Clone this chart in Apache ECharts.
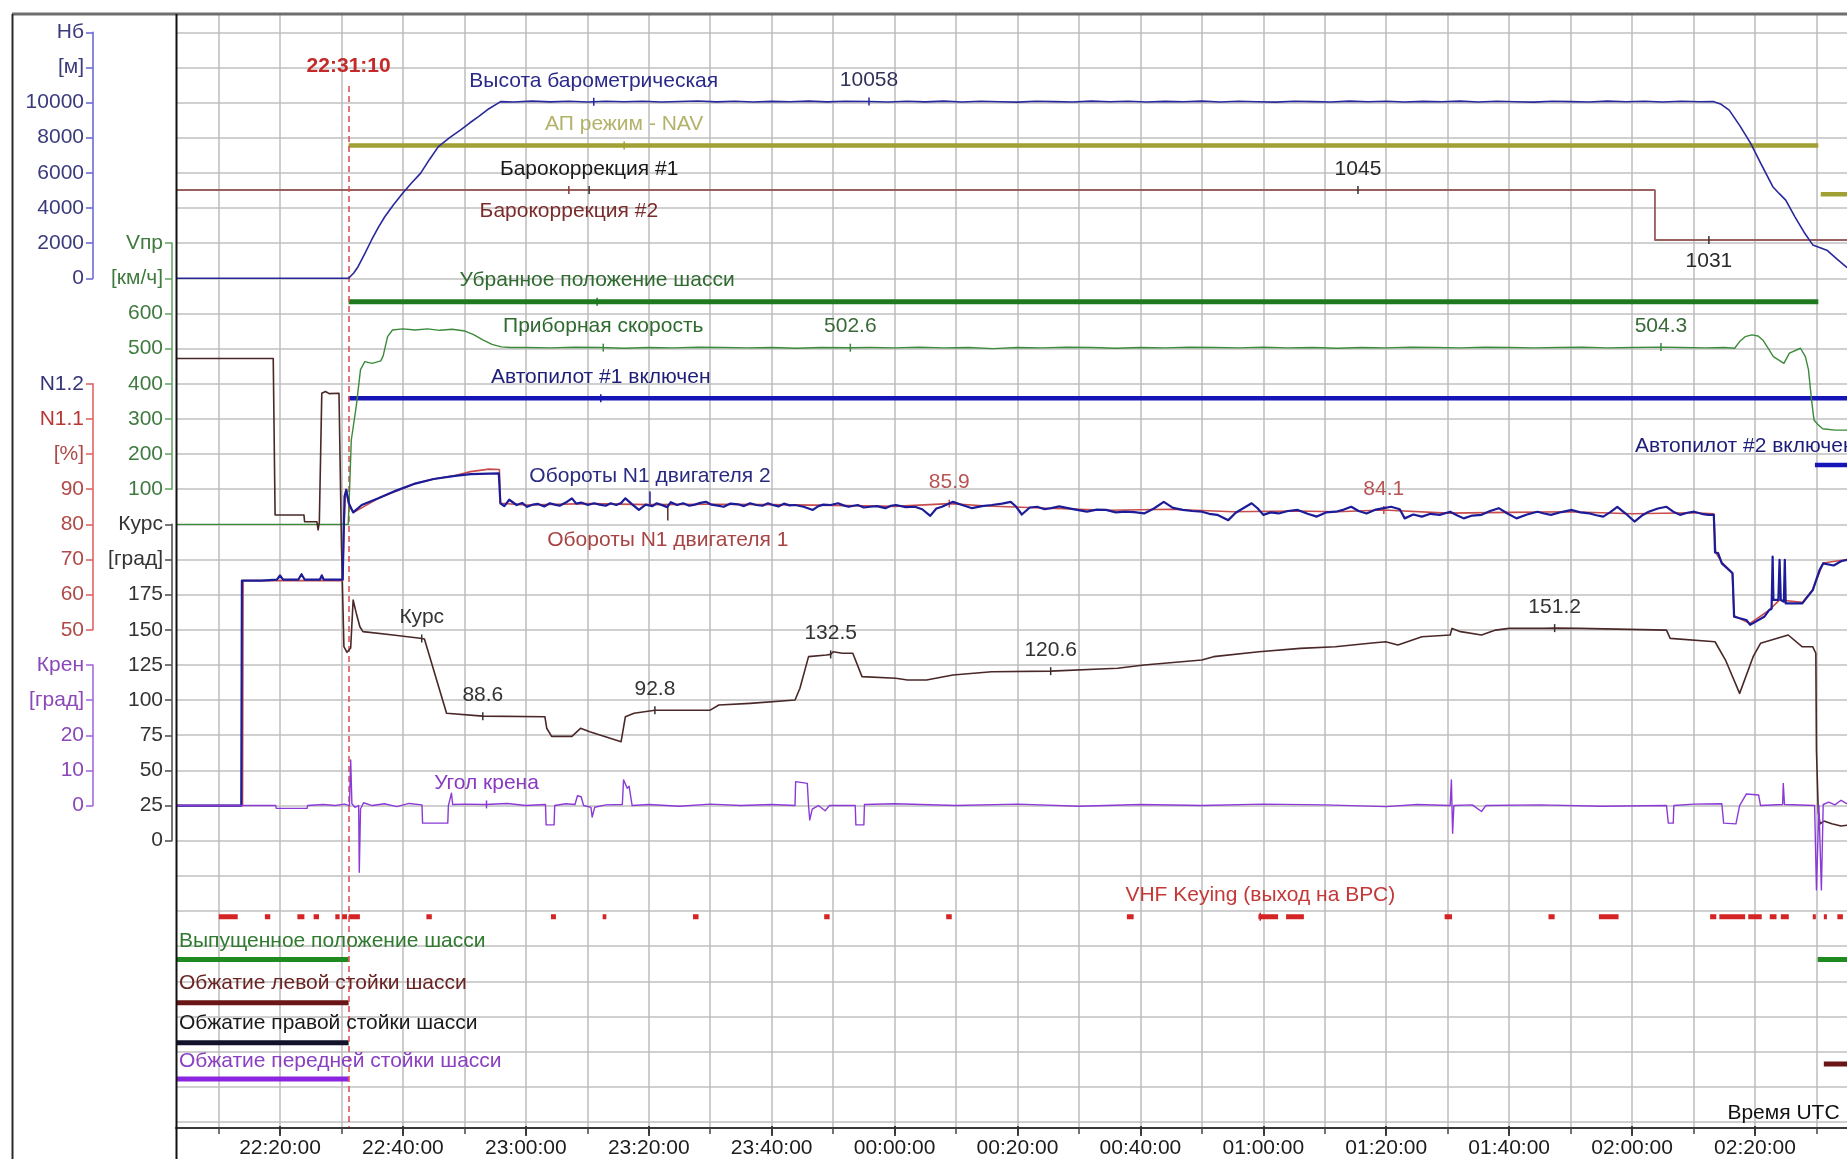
<!DOCTYPE html>
<html>
<head>
<meta charset="utf-8">
<title>Параметры полёта</title>
<script src="https://cdn.jsdelivr.net/npm/echarts@6/dist/echarts.min.js"></script>
<style>
  html, body { margin: 0; padding: 0; background: #ffffff; }
  #chart { width: 1847px; height: 1159px; }
</style>
</head>
<body>
<div id="chart"></div>
<script>
// ---------------------------------------------------------------
// Time is given in minutes after 22:00 UTC (values past 120 are after midnight).
// ---------------------------------------------------------------
const TAKEOFF = 31 + 10 / 60;           // 22:31:10 marker
const timeLabelTicks = [20, 40, 60, 80, 100, 120, 140, 160, 180, 200, 220, 240, 260];

// Barometric altitude, m
const altitude = [
  [3.1,0],[31.17,0],[32.0,300],[32.7,660],[33.8,1400],[34.9,2180],[36.0,2900],[37.05,3500],
  [38.5,4200],[39.96,4840],[41.4,5420],[42.86,5970],[44.3,6750],[45.77,7490],[47.6,8000],
  [49.4,8440],[50.9,8850],[52.3,9200],[54.0,9650],[55.9,10050],
  [58,10030],[61,10080],[64,10040],[67,10070],[70,10030],[73,10075],[76,10045],[79,10070],
  [82,10030],[85,10060],[88,10085],[91,10040],[94,10070],[97,10030],[100,10065],[103,10045],
  [106,10080],[109,10040],[112,10070],[115.84,10058],[119,10030],[122,10070],[125,10040],
  [128,10080],[131,10035],[134,10070],[137,10045],[140,10025],[143,10070],[146,10055],
  [149,10030],[152,10080],[155,10045],[158,10070],[161,10030],[164,10065],[167,10045],
  [170,10080],[173,10030],[176,10070],[179,10045],[182,10025],[185,10070],[188,10055],
  [191,10030],[194,10080],[197,10045],[200,10070],[203,10030],[206,10065],[209,10045],
  [212,10080],[215,10035],[218,10070],[221,10045],[224,10025],[227,10070],[230,10055],
  [233,10030],[236,10080],[239,10045],[242,10070],[245,10035],[248,10070],[251,10045],
  [253.2,10060],[254.5,9900],[255.8,9570],[257.5,8700],[259.3,7680],[261,6500],[262.9,5210],
  [264,4800],[265,4450],[266.5,3500],[268.1,2560],[269.4,1900],[270.5,1750],[271.7,1600],
  [273.3,1100],[275,600]
];

// Indicated airspeed, km/h
const airspeed = [
  [3.1,0],[31.1,0],[31.3,90],[31.6,240],[32.4,335],[33.1,440],[33.8,463],[35.0,458],[36.4,465],
  [36.8,480],[37.5,534],[38.3,553],[40.0,556],[42.0,553],[44.0,556],[46.0,552],[48.0,555],
  [50.1,550],[51.5,540],[53.0,525],[54.5,512],[56.0,505],[57.5,503],
  [60,503],[64,502],[68,504],[72,503],[76,501],[80,503],[84,502],[88,504],[92,503],[96,502],
  [100,503],[104,501],[108,503],[112.8,502.6],[116,503],[120,502],[124,504],[128,502],[132,503],
  [136,500],[140,503],[144,502],[148,504],[152,503],[156,501],[160,503],[164,502],[168,504],
  [172,503],[176,502],[180,504],[184,502],[188,503],[192,501],[196,503],[200,502],[204,504],
  [208,503],[212,502],[216,504],[220,503],[224,502],[228,503],[232,504],[236,502],[240,503],
  [244.7,504.3],[248,503],[252,502],[255,503],[256.7,501],[257.5,520],[258.4,534],[259.5,539],
  [260.5,536],[261.3,524],[263.0,477],[264.7,458],[265.6,487],[267.4,501],[268.2,477],
  [268.7,440],[269.2,354],[269.6,297],[270.2,285],[271.0,272],[273.0,268],[275,268]
];

// Engine 2 fan speed N1, %
const n1Engine2 = [
  [3.1,0],[13.7,0],[13.8,64],[17.0,64],[19.5,64.3],[20.0,65.5],[20.5,64.3],[23.0,64.3],[23.5,65.8],
  [24.0,64.3],[26.5,64.3],[26.8,65.5],[27.1,64.3],[30.2,64.3],[30.5,88.0],[30.8,89.8],[31.2,86.0],
  [31.9,83.4],[33.3,85.5],[36.0,87.4],[38.9,89.6],[42.0,91.6],[45.0,92.9],[48.5,93.8],[51.0,94.3],
  [55.6,94.5],[55.86,86.0],[56.5,85.2],[57.3,87.0],[58.5,85.5],[59.4,86.1],[60.2,85.0],[61.1,85.6],
  [62.0,85.8],[63.0,85.1],[63.9,86.0],[64.7,85.6],[65.5,85.3],[66.5,86.2],[67.5,87.4],[68.2,85.9],
  [69.0,86.2],[70.1,85.5],[71.1,86.0],[72.0,85.6],[73.0,85.3],[73.8,86.0],[74.7,85.5],[75.5,86.1],
  [76.2,87.4],[77.3,85.7],[78.4,84.1],[79.5,85.6],[80.6,85.2],[81.3,86.0],[82.3,85.4],[83.0,84.9],
  [83.6,86.3],[84.6,85.5],[85.6,86.0],[86.6,85.3],[87.5,85.6],[88.4,86.1],[89.3,86.4],[90.2,85.6],
  [91.0,85.4],[92.2,85.0],[93.3,85.9],[94.5,85.7],[95.5,85.2],[96.5,86.0],[97.5,85.5],[98.5,85.3],
  [99.4,86.0],[100.2,85.5],[101.1,85.1],[102.0,85.9],[102.9,85.4],[103.8,85.5],[105.2,85.0],
  [106.7,84.1],[107.6,85.2],[108.4,85.6],[109.6,85.5],[110.8,86.0],[111.7,85.4],[112.5,85.0],
  [114.0,85.5],[115.0,84.8],[116.0,85.0],[117.1,85.2],[118.5,84.6],[119.4,85.3],[120.2,85.5],
  [121.8,84.9],[123.3,85.0],[124.5,84.3],[125.8,82.4],[126.8,84.5],[127.7,85.0],[129.5,86.4],
  [131.0,85.5],[132.6,84.6],[134.2,85.2],[135.8,85.5],[137.5,85.9],[138.9,86.4],[139.8,85.0],
  [140.7,82.8],[142.0,84.8],[143.2,85.0],[144.4,84.3],[145.5,84.6],[146.8,85.1],[148.2,84.6],
  [149.7,84.1],[151.3,83.6],[152.9,84.2],[154.4,84.1],[156.0,83.4],[157.5,83.6],[159.0,83.5],
  [160.6,83.1],[162.2,84.5],[163.8,86.4],[165.3,84.7],[166.9,84.1],[168.4,83.8],[170.0,83.6],
  [171.2,83.0],[172.5,82.7],[174.3,81.2],[175.5,83.3],[178.1,86.0],[179.1,84.5],[180.0,82.7],
  [181.2,83.4],[182.5,83.1],[184.0,83.8],[185.6,84.1],[187.2,83.0],[188.7,82.2],[190.2,83.4],
  [191.8,83.6],[193.1,84.2],[194.3,85.0],[195.5,83.8],[196.8,83.1],[198.3,84.2],[199.6,84.6],
  [200.8,85.0],[202.2,84.3],[203.0,81.7],[204.4,82.8],[205.8,82.2],[207.2,83.0],[208.7,82.7],
  [210.4,83.6],[211.5,82.6],[212.6,81.7],[214.0,82.5],[215.5,82.7],[216.9,83.8],[218.3,84.6],
  [219.8,83.0],[221.2,81.7],[222.9,82.8],[224.6,83.6],[225.7,83.1],[226.8,82.7],[228.5,83.5],
  [230.2,84.1],[231.6,83.4],[233.1,83.1],[234.2,82.6],[235.3,82.2],[236.4,83.4],[237.6,85.0],
  [239.0,83.0],[240.4,80.8],[241.6,82.5],[242.7,83.6],[244.2,84.5],[245.6,85.0],[246.7,83.6],
  [247.8,82.7],[249.0,83.3],[250.1,83.6],[251.3,83.0],[252.4,82.7],[253.3,82.7],
  [253.5,72.0],[254.0,71.8],[254.6,68.9],[256.35,66.1],[256.6,53.7],[258.6,52.8],[259.2,51.4],
  [261.5,53.7],[262.3,55.6],[262.7,56.0],[262.87,70.8],[263.0,58.5],[263.8,58.5],[264.0,69.9],
  [264.2,58.5],[264.7,58.0],[264.85,69.9],[265.0,57.5],[267.7,57.5],[269.4,61.3],[270.5,67.0],
  [271.1,68.9],[272.8,68.3],[274.0,69.5],[275,69.9]
];

// Engine 1 fan speed N1, %
const n1Engine1 = [
  [3.1,0],[13.9,0],[14.0,64],[30.2,64],[30.4,80],[30.7,90],[31.3,85],[32.0,83.4],[36.0,87.4],
  [42.0,91.6],[45.0,92.9],[48.5,93.9],[51.0,95.0],[54.0,95.7],[55.7,95.6],[55.86,86.0],[60,85.5],[70,85.9],
  [80,85.6],[90,85.7],[100,85.6],[110,85.4],[120,85.1],[128.9,85.9],[135,85.2],[145,84.6],
  [155,84.0],[165,84.3],[175,83.6],[185,83.8],[192,83.6],[199.6,84.1],[210,83.2],[220,83.4],
  [230,83.6],[240,83.0],[250,83.3],[253.3,83.0],[253.6,72.0],[254.6,69.2],[256.3,66.3],
  [256.6,54.0],[259.2,51.8],[262.3,55.6],[264.0,58.5],[267.7,57.8],[269.4,61.5],[271.1,69.0],[275,70.0]
];

// Heading, degrees
const heading = [
  [3.1,343],[18.9,343],[19.2,231.6],[23.9,231.6],[24.0,226.9],[26.0,226.9],[26.2,221],[26.4,226.5],
  [26.8,318.2],[27.4,319.5],[28.0,318],[29.6,318.2],[30.0,210],[30.4,138],[30.9,134],[31.5,137],
  [31.9,171.2],[32.4,162],[33.0,152.2],[33.5,148.7],[38.4,146.3],[42.8,144.0],[43.5,143.5],
  [47.1,90.6],[53.0,88.6],[63.1,88.2],[63.4,80],[64.2,74.2],[67.5,74.2],[68.9,79.9],[70.4,77.5],
  [75.5,70.4],[76.2,88.2],[77.6,90.6],[81.0,92.8],[90.0,92.9],[91.4,96.5],[96.5,97.7],
  [103.8,100.1],[104.6,108.4],[106.0,130.9],[108.9,132.1],[109.6,132.5],[110.0,134.4],
  [111.5,133.3],[113.2,133.3],[114.7,116.7],[120.2,115.5],[122.1,114.3],[125.2,114.3],
  [129.5,117.8],[135.8,120.2],[145.4,120.6],[156.3,122.6],[160.6,125.0],[170.0,128.5],
  [171.9,130.9],[179.3,134.4],[186.0,136.8],[191.7,137.9],[197.3,140.4],[199.9,141.5],
  [201.9,139.2],[205.8,145.1],[210.4,146.3],[210.7,151.0],[212.1,148.7],[215.5,146.3],
  [217.8,149.8],[220.0,151.0],[225.7,151.0],[227.4,151.2],[231.4,151.0],[245.6,149.8],
  [246.2,143.9],[253.5,141.5],[255.2,128.5],[257.5,104.8],[259.7,130.9],[260.9,140.4],
  [265.4,146.3],[267.7,137.9],[269.4,137.9],[269.9,133.3],[270.0,64.5],[270.3,20],
  [270.6,12],[271.2,14],[272.5,12],[274,10.5],[275,11]
];

// Roll angle, degrees
const roll = [
  [3.1,0],[19.3,0],[19.4,-0.8],[24.4,-0.8],[24.5,0],[27,0.3],[29,0],[30.5,0.4],[31.3,0],[31.5,13],
  [31.7,0.5],[32.2,-0.5],[32.8,0],[32.9,-19],[33.1,-1],[33.6,0.8],[35,0],[37,0.5],[39,-0.3],
  [41,0.6],[43.1,0.2],[43.2,-5],[47.3,-5],[47.4,0],[47.7,0.2],[47.9,3.5],[48.1,0.3],[50,0.4],
  [53.4,0.3],[57,0.6],[60,0],[63.2,0.3],[63.3,-5.5],[64.6,-5.5],[64.7,0],[66.5,0.5],[68.0,0.3],
  [68.4,2.8],[69.0,2.5],[69.4,0],[70.6,-0.5],[70.8,-3.3],[71.2,-0.5],[73,0.2],[75.7,0.3],
  [75.9,7.3],[76.5,4.9],[76.8,5.5],[77.3,0],[80,0.3],[85,-0.2],[90,0.4],[95,0],[100,0.3],
  [103.8,0],[103.9,6.8],[105.8,6.3],[106.0,0],[106.2,-4.1],[106.6,-1],[107.6,0],[108.7,-1.5],
  [109.4,0],[113.6,0],[113.7,-5.5],[115.0,-5.5],[115.1,0.3],[120,0.5],[130,0],[140,0.4],
  [150,-0.2],[160,0.3],[170,0],[180,0.4],[190,0.2],[200,-0.3],[205,0.3],[210.4,0],[210.6,7.3],
  [210.8,-7.9],[211.0,0],[214,0.2],[215.5,-1.7],[216.2,0],[225,0.2],[235,-0.2],[245.6,0],
  [245.9,-5],[246.7,-5],[246.8,0],[250,0.4],[254.6,0.5],[254.9,-5],[256.9,-5.2],[257.5,0],
  [258.6,3.3],[260.6,3.0],[260.9,0],[264.5,0.3],[264.6,6.3],[264.8,0.3],[269.7,0],[270.0,-24],
  [270.4,0],[270.8,-24],[271.1,0.3],[272,1],[273,0.2],[274,1.5],[275,0.5]
];

// Altimeter setting (barocorrection), hPa
const baroCorrection1 = [[3.1,1045],[195.4,1045],[243.7,1045],[243.7,1031],[252.5,1031],[275,1031]];
const baroCorrection2 = [[3.1,1045],[67.0,1045],[243.7,1045],[243.7,1031],[275,1031]];

// Discrete signals: [from, to, state]
const apNavMode      = [[TAKEOFF,270.3,1],[270.7,275,0]];
const gearRetracted  = [[TAKEOFF,270.3,1]];
const autopilot1     = [[TAKEOFF,275,1]];
const autopilot2     = [[269.75,275,1]];
const vhfKeying      = [
  [10.04,13.12,1],[17.54,18.42,1],[22.83,23.97,1],[25.47,26.35,1],[29.0,29.7,1],[30.1,30.9,1],
  [31.2,33.0,1],[43.82,44.70,1],[64.1,64.9,1],[72.5,73.1,1],[87.2,88.1,1],[108.55,109.43,1],
  [128.4,129.3,1],[157.8,158.9,1],[179.2,182.4,1],[183.7,186.6,1],[209.5,210.7,1],[226.4,227.4,1],
  [234.6,237.8,1],[252.7,253.7,1],[254.2,258.4,1],[258.9,261.1,1],[262.4,263.5,1],[264.2,265.5,1],
  [269.4,269.9,1],[271.2,271.7,1],[273.4,274.3,1]
];
const gearExtended   = [[3.1,TAKEOFF,1],[270.2,275,1]];
const leftStrut      = [[3.1,TAKEOFF,1],[271.2,275,0]];
const rightStrut     = [[3.1,TAKEOFF,1]];
const noseStrut      = [[3.1,TAKEOFF,1]];

// ---------------------------------------------------------------
// Layout
// ---------------------------------------------------------------
const W = 1847, H = 1159;
const FONT = "'Liberation Sans', Arial, sans-serif";
const PLOT_LEFT = 176, PLOT_TOP = 14, PLOT_BOTTOM = 1128;
const PX_PER_MIN = 6.1458, X_AT_20 = 280;          // 22:20 tick position
const ROW0 = 278.3, ROW = 35.15;                    // horizontal grid rows
const rowY = k => ROW0 + ROW * k;
const xAtT = t => X_AT_20 + (t - 20) * PX_PER_MIN;
const tAtX = x => 20 + (x - X_AT_20) / PX_PER_MIN;
const T_MIN = tAtX(PLOT_LEFT), T_MAX = tAtX(W);
const COL_A = 93, COL_B = 172;                      // x of the two axis columns

// Labelled scales on the left, each occupying a band of grid rows
const scales = {
  alt:  { rows: [-7, 0],  min: 0,   max: 14000, step: 2000, col: COL_A,
          names: { 12000: '[м]', 14000: 'Нб' }, line: '#6b6bd6', label: '#3a3a7c', colors: {} },
  vnp:  { rows: [-1, 6],  min: 100, max: 800,   step: 100,  col: COL_B,
          names: { 700: '[км/ч]', 800: 'Vпр' }, line: '#6aa86a', label: '#3f7a3f', colors: {} },
  hdg:  { rows: [7, 16],  min: 0,   max: 225,   step: 25,   col: COL_B,
          names: { 200: '[град]', 225: 'Курс' }, line: '#555555', label: '#333333', colors: {} },
  n1:   { rows: [3, 10],  min: 50,  max: 120,   step: 10,   col: COL_A,
          names: { 100: '[%]', 110: 'N1.1', 120: 'N1.2' }, line: '#e06464', label: '#b04a4a',
          colors: { 120: '#34347a', 110: '#b83636' } },
  roll: { rows: [11, 15], min: 0,   max: 40,    step: 10,   col: COL_A,
          names: { 30: '[град]', 40: 'Крен' }, line: '#a66ae0', label: '#8a48b8', colors: {} }
};

// Vertical placement of discrete signals: [y when 1, y when 0]
const flagLevels = {
  apNav: [145.5, 194.3], gearUp: [301.7], ap1: [398.3], ap2: [465], vhf: [916.7],
  gearDown: [959.5], leftStrut: [1002.7, 1064], rightStrut: [1042.7], noseStrut: [1079]
};
const baroLevels = { a: [1045, 190], b: [1031, 240] };

// ---------------------------------------------------------------
// Helpers
// ---------------------------------------------------------------
function linearRange(vA, yA, vB, yB, top, bottom) {
  const v = y => vA + (y - yA) * (vB - vA) / (yB - yA);
  const vt = v(top), vb = v(bottom);
  return vt > vb ? { min: vb, max: vt, inverse: false, at: v } : { min: vt, max: vb, inverse: true, at: v };
}
function interp(data, m) {
  for (let i = 1; i < data.length; i++) {
    const a = data[i - 1], b = data[i];
    if (a[1] == null || b[1] == null) continue;
    if (m >= a[0] && m <= b[0]) {
      if (b[0] === a[0]) return b[1];
      return a[1] + (b[1] - a[1]) * (m - a[0]) / (b[0] - a[0]);
    }
  }
  return null;
}
function segmentsToLine(segs) {
  const out = [];
  segs.forEach(([a, b, s], i) => {
    if (i) out.push([a, null]);
    out.push([a, s], [b, s]);
  });
  return out;
}
function timeText(m) {
  const total = 22 * 60 + Math.round(m);
  const h = Math.floor(total / 60) % 24, mm = total % 60;
  return String(h).padStart(2, '0') + ':' + String(mm).padStart(2, '0') + ':00';
}
// label with a small tick on the curve
function tag(data, m, text, o) {
  o = o || {};
  const v = o.value != null ? o.value : interp(data, m);
  return {
    coord: [m, v],
    symbol: 'rect',
    symbolSize: [1.5, o.tick || 8],
    symbolOffset: [0, o.shift || 0],
    itemStyle: { color: o.tickColor || '#333333' },
    label: {
      show: true, formatter: text != null ? text : String(v),
      position: o.below ? 'bottom' : 'top', distance: o.distance != null ? o.distance : 6,
      color: o.color, fontSize: 21, fontFamily: FONT, lineHeight: 22
    }
  };
}

// ---------------------------------------------------------------
// Grids and axes
// ---------------------------------------------------------------
const grids = [], xAxes = [], yAxes = [];
function addGrid(g, xa, ya) {
  grids.push(g);
  const gi = grids.length - 1;
  xa.gridIndex = gi; ya.gridIndex = gi;
  xAxes.push(xa); yAxes.push(ya);
  return { grid: gi, x: xAxes.length - 1, y: yAxes.length - 1 };
}
const hiddenTime = () => ({ type: 'value', min: T_MIN, max: T_MAX, show: false });
const hiddenUnit = () => ({ type: 'value', min: 0, max: 1, show: false });

// 0: frame area, holds the discrete signals and the bottom axis line
const baroRange = linearRange(baroLevels.a[0], baroLevels.a[1], baroLevels.b[0], baroLevels.b[1], PLOT_TOP, PLOT_BOTTOM);
const G0 = addGrid(
  { left: PLOT_LEFT, right: 0, top: PLOT_TOP, bottom: H - PLOT_BOTTOM },
  { type: 'value', min: T_MIN, max: T_MAX, position: 'bottom',
    axisLine: { show: true, onZero: false, lineStyle: { color: '#3a3a3a', width: 2 } },
    axisTick: { show: false }, axisLabel: { show: false }, splitLine: { show: false } },
  { type: 'value', min: baroRange.min, max: baroRange.max, inverse: baroRange.inverse, show: false }
);

// 1: vertical grid lines every 10 minutes + small ticks
addGrid(
  { left: xAtT(10), right: W - xAtT(270), top: PLOT_TOP, bottom: H - PLOT_BOTTOM },
  { type: 'value', min: 10, max: 270, interval: 10, position: 'bottom',
    axisLine: { show: false }, axisLabel: { show: false },
    axisTick: { show: true, length: 6, lineStyle: { color: '#444', width: 1.5 } },
    splitLine: { show: true, lineStyle: { color: '#bcbcbc', width: 1.5 } } },
  hiddenUnit()
);

// 2: time labels every 20 minutes
addGrid(
  { left: xAtT(timeLabelTicks[0]), right: W - xAtT(timeLabelTicks[timeLabelTicks.length - 1]), top: PLOT_TOP, bottom: H - PLOT_BOTTOM },
  { type: 'value', min: timeLabelTicks[0], max: timeLabelTicks[timeLabelTicks.length - 1], interval: 20, position: 'bottom',
    axisLine: { show: false }, splitLine: { show: false },
    axisTick: { show: true, length: 10, lineStyle: { color: '#333', width: 1.8 } },
    axisLabel: { show: true, margin: 12, color: '#1c1c1c', fontSize: 21, fontFamily: FONT, formatter: timeText } },
  hiddenUnit()
);

// 3: horizontal grid rows
addGrid(
  { left: PLOT_LEFT, right: 0, top: rowY(-7), bottom: H - rowY(24) },
  hiddenUnit(),
  { type: 'value', min: -7, max: 24, interval: 1, inverse: true,
    axisLine: { show: false }, axisTick: { show: false }, axisLabel: { show: false },
    splitLine: { show: true, lineStyle: { color: '#d0d0d0', width: 2.2 } } }
);

// 4..8: labelled scales
const S = {};
Object.keys(scales).forEach(key => {
  const s = scales[key];
  S[key] = addGrid(
    { left: PLOT_LEFT, right: 0, top: rowY(s.rows[0]), bottom: H - rowY(s.rows[1]) },
    hiddenTime(),
    { type: 'value', position: 'left', offset: PLOT_LEFT - s.col,
      min: s.min, max: s.max, interval: s.step,
      axisLine: { show: true, lineStyle: { color: s.line, width: 1.6 } },
      axisTick: { show: true, length: 7, lineStyle: { color: s.line, width: 1.6 } },
      splitLine: { show: false },
      axisLabel: {
        show: true, margin: 9, fontSize: 21, fontFamily: FONT,
        color: v => s.colors[v] || s.label,
        formatter: v => (s.names[v] != null ? s.names[v] : String(v))
      } }
  );
});

// hidden axes for discrete signals, all inside grid 0
const flagAxis = {};
Object.keys(flagLevels).forEach(key => {
  const [yOn, yOffRaw] = flagLevels[key];
  const yOff = yOffRaw != null ? yOffRaw : yOn + 40;
  const r = linearRange(1, yOn, 0, yOff, PLOT_TOP, PLOT_BOTTOM);
  yAxes.push({ type: 'value', gridIndex: G0.grid, min: r.min, max: r.max, inverse: r.inverse, show: false });
  flagAxis[key] = { y: yAxes.length - 1, at: r.at };
});

// ---------------------------------------------------------------
// Series
// ---------------------------------------------------------------
const series = [];
function flagSeries(name, key, segs, color, width, extra) {
  series.push(Object.assign({
    name, type: 'line', xAxisIndex: G0.x, yAxisIndex: flagAxis[key].y,
    data: segmentsToLine(segs), symbol: 'none', connectNulls: false, silent: true,
    lineStyle: { color, width, cap: 'butt' }, z: 3
  }, extra || {}));
}
function curveSeries(name, data, key, color, width, extra) {
  series.push(Object.assign({
    name, type: 'line', xAxisIndex: S[key].x, yAxisIndex: S[key].y,
    data, symbol: 'none', clip: false, silent: true, connectNulls: false,
    lineStyle: { color, width, join: 'round' }, z: 5
  }, extra || {}));
}

flagSeries('АП режим - NAV', 'apNav', apNavMode, '#a0a034', 4.5, {
  markPoint: { silent: true, data: [tag(segmentsToLine(apNavMode), 76.0, 'АП режим - NAV', { color: '#b2b26a', tickColor: '#a0a034' })] }
});
flagSeries('Убранное положение шасси', 'gearUp', gearRetracted, '#1f7a1f', 5, {
  markPoint: { silent: true, data: [tag(segmentsToLine(gearRetracted), 71.6, 'Убранное положение шасси', { color: '#2f6a2f', tickColor: '#1f7a1f' })] }
});
flagSeries('Автопилот #1 включен', 'ap1', autopilot1, '#1616b8', 4.5, {
  markPoint: { silent: true, data: [tag(segmentsToLine(autopilot1), 72.2, 'Автопилот #1 включен', { color: '#1e1e78', tickColor: '#1616b8' })] },
  markLine: {
    silent: true, symbol: ['none', 'none'],
    lineStyle: { type: [6, 4], color: '#d84a4a', width: 1.5 },
    label: { show: true, position: 'start', formatter: '22:31:10', color: '#c42a2a', fontWeight: 'bold', fontSize: 21, fontFamily: FONT, distance: 9 },
    data: [[{ coord: [TAKEOFF, flagAxis.ap1.at(86)] }, { coord: [TAKEOFF, flagAxis.ap1.at(PLOT_BOTTOM - 1)] }]]
  }
});
flagSeries('Автопилот #2 включен', 'ap2', autopilot2, '#1616b8', 4.5);
flagSeries('VHF Keying (выход на ВРС)', 'vhf', vhfKeying, '#d42424', 5, {
  markPoint: { silent: true, data: [tag(segmentsToLine(vhfKeying), 179.5, 'VHF Keying (выход на ВРС)', { color: '#c43838', tickColor: '#d42424' })] }
});
flagSeries('Выпущенное положение шасси', 'gearDown', gearExtended, '#1f8a1f', 5);
flagSeries('Обжатие левой стойки шасси', 'leftStrut', leftStrut, '#6a1616', 5);
flagSeries('Обжатие правой стойки шасси', 'rightStrut', rightStrut, '#12122a', 5);
flagSeries('Обжатие передней стойки шасси', 'noseStrut', noseStrut, '#8a24e0', 5);

// barocorrection lines live in grid 0 on the hidden yAxis 0
series.push({
  name: 'Барокоррекция #1', type: 'line', xAxisIndex: G0.x, yAxisIndex: G0.y,
  data: baroCorrection1, symbol: 'none', silent: true, z: 4,
  lineStyle: { color: '#1e1e1e', width: 1.4 },
  markPoint: { silent: true, data: [
    tag(baroCorrection1, 70.3, 'Барокоррекция #1', { color: '#1a1a1a' }),
    tag(baroCorrection1, 195.4, null, { value: 1045, color: '#2a2a2a' }),
    tag(baroCorrection1, 252.5, null, { value: 1031, color: '#2a2a2a', below: true })
  ] }
});
series.push({
  name: 'Барокоррекция #2', type: 'line', xAxisIndex: G0.x, yAxisIndex: G0.y,
  data: baroCorrection2, symbol: 'none', silent: true, z: 4,
  lineStyle: { color: '#b06464', width: 1.4 },
  markPoint: { silent: true, data: [
    tag(baroCorrection2, 67.0, 'Барокоррекция #2', { color: '#7a2c2c', tickColor: '#8a3a3a', below: true })
  ] }
});

curveSeries('Высота барометрическая', altitude, 'alt', '#28289c', 1.6, {
  markPoint: { silent: true, data: [
    tag(altitude, 71.05, 'Высота барометрическая', { color: '#2a2a8a', tickColor: '#28289c' }),
    tag(altitude, 115.84, null, { value: 10058, color: '#33335a', tickColor: '#28289c' })
  ] }
});
curveSeries('Приборная скорость', airspeed, 'vnp', '#3b8a3b', 1.4, {
  markPoint: { silent: true, data: [
    tag(airspeed, 72.6, 'Приборная скорость', { color: '#2f6a2f', tickColor: '#3b8a3b' }),
    tag(airspeed, 112.8, null, { value: 502.6, color: '#3a6a3a', tickColor: '#3b8a3b' }),
    tag(airspeed, 244.7, null, { value: 504.3, color: '#3a6a3a', tickColor: '#3b8a3b' })
  ] }
});
curveSeries('Курс', heading, 'hdg', '#4a2828', 1.6, {
  markPoint: { silent: true, data: [
    tag(heading, 43.06, 'Курс', { color: '#333333' }),
    tag(heading, 53.0, null, { value: 88.6, color: '#333333' }),
    tag(heading, 81.0, null, { value: 92.8, color: '#333333' }),
    tag(heading, 109.6, null, { value: 132.5, color: '#333333' }),
    tag(heading, 145.4, null, { value: 120.6, color: '#333333' }),
    tag(heading, 227.4, null, { value: 151.2, color: '#333333' })
  ] }
});
curveSeries('Обороты N1 двигателя 1', n1Engine1, 'n1', '#c84c4c', 1.6, {
  markPoint: { silent: true, data: [
    tag(n1Engine1, 83.1, 'Обороты N1 двигателя 1', { color: '#a84444', tickColor: '#5a2a2a', below: true, tick: 16, shift: 8, distance: 9 }),
    tag(n1Engine1, 128.9, null, { value: 85.9, color: '#b85454', tickColor: '#c84c4c' }),
    tag(n1Engine1, 199.6, null, { value: 84.1, color: '#b85454', tickColor: '#c84c4c' })
  ] }
});
curveSeries('Обороты N1 двигателя 2', n1Engine2, 'n1', '#1c1c98', 2.2, {
  z: 6,
  markPoint: { silent: true, data: [
    tag(n1Engine2, 80.2, 'Обороты N1 двигателя 2', { color: '#2a2a80', tickColor: '#1c1c98', tick: 14, shift: -7, distance: 4 })
  ] }
});
curveSeries('Угол крена', roll, 'roll', '#8c3ad6', 1.4, {
  z: 7,
  markPoint: { silent: true, data: [tag(roll, 53.6, 'Угол крена', { color: '#8a3ac0', tickColor: '#8c3ad6' })] }
});

// ---------------------------------------------------------------
// Frame and free text
// ---------------------------------------------------------------
const txt = (text, x, y, fill, align) => ({
  type: 'text', x, y, silent: true, z: 20,
  style: { text, fill, font: "21px " + FONT, textAlign: align || 'left', align: align || 'left',
           textVerticalAlign: 'middle', verticalAlign: 'middle' }
});
const ln = (x1, y1, x2, y2, stroke, lineWidth) => ({
  type: 'line', silent: true, z: 20, shape: { x1, y1, x2, y2 }, style: { stroke, lineWidth }
});
const graphic = [
  ln(12, 14, W, 14, '#6e6e6e', 3),
  ln(12.5, 14, 12.5, H, '#2a2a2a', 2),
  ln(PLOT_LEFT + 0.5, 14, PLOT_LEFT + 0.5, H, '#111111', 2),
  txt('Выпущенное положение шасси', 179, 941.7, '#2f7a2f'),
  txt('Обжатие левой стойки шасси', 179, 983.3, '#6a2424'),
  txt('Обжатие правой стойки шасси', 179, 1023.3, '#1a1a1a'),
  txt('Обжатие передней стойки шасси', 179, 1061.7, '#8a40c0'),
  txt('Автопилот #2 включен', 1635, 446.7, '#1e1e78'),
  txt('Время UTC', 1783.5, 1113, '#111111', 'center')
];

const chart = echarts.init(document.getElementById('chart'), null, { renderer: 'canvas', width: W, height: H });
chart.setOption({
  animation: false,
  backgroundColor: '#ffffff',
  textStyle: { fontFamily: FONT },
  grid: grids,
  xAxis: xAxes,
  yAxis: yAxes,
  series,
  graphic
});
</script>
</body>
</html>
